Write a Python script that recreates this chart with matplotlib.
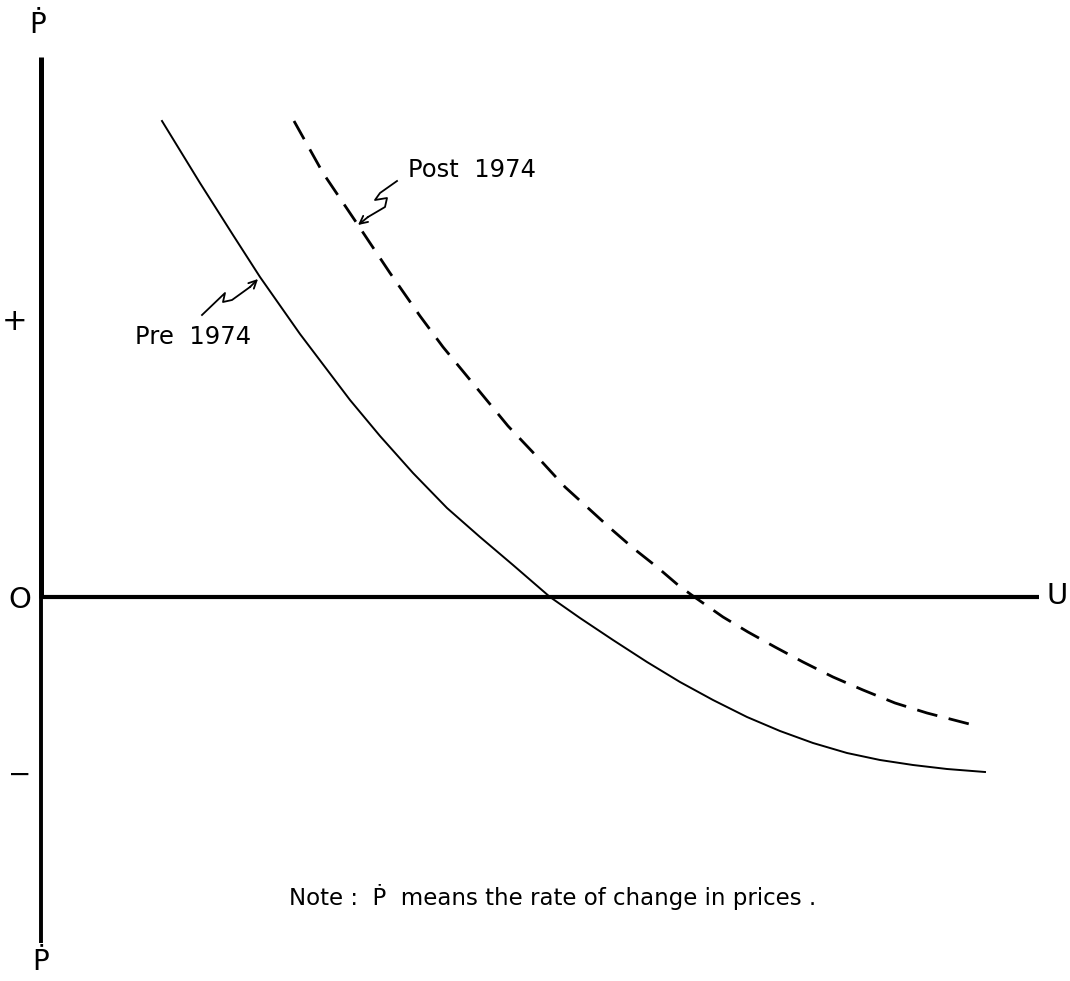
import matplotlib
matplotlib.use("Agg")
import matplotlib.pyplot as plt

# Phillips curves (U on x, rate of price change on y)
pre_u = [1.21, 1.59, 1.92, 2.19, 2.59, 3.09, 3.39, 3.72, 4.06, 4.39, 4.72, 5.09, 5.39,
         5.72, 6.06, 6.39, 6.72, 7.06, 7.39, 7.72, 8.06, 8.39, 8.72, 9.06, 9.44]
pre_p = [4.77, 4.15, 3.63, 3.21, 2.64, 1.98, 1.62, 1.25, 0.90, 0.61, 0.33, 0.01, -0.20,
         -0.42, -0.64, -0.84, -1.02, -1.19, -1.33, -1.45, -1.55, -1.62, -1.67, -1.71, -1.74]

post_u = [2.53, 2.82, 3.17, 3.49, 3.79, 4.02, 4.67, 5.02, 5.24, 5.46, 5.69, 5.92, 6.16,
          6.37, 6.52, 6.82, 7.07, 7.34, 7.62, 7.92, 8.22, 8.54, 8.86, 9.36]
post_p = [4.77, 4.25, 3.73, 3.25, 2.82, 2.51, 1.72, 1.35, 1.11, 0.91, 0.70, 0.50, 0.31,
          0.13, 0.02, -0.19, -0.34, -0.49, -0.64, -0.79, -0.92, -1.05, -1.15, -1.28]

# little hand-drawn squiggly pointers to the curves
pre_squiggle = [(1.61, 2.83), (1.84, 3.05), (1.82, 2.96), (1.91, 2.98), (2.09, 3.11), (2.17, 3.19)]
post_squiggle = [(3.56, 4.17), (3.39, 4.05), (3.34, 3.98), (3.46, 4.00), (3.44, 3.91), (3.27, 3.81), (3.17, 3.73)]

fig = plt.figure(figsize=(10.70, 9.81), dpi=100)
ax = fig.add_axes([0, 0, 1, 1])
ax.set_xlim(-0.41, 10.29)
ax.set_ylim(-3.83, 5.98)
ax.axis("off")

# axes drawn by hand, like the original sketch
ax.plot([0, 0], [0, 5.41], color="black", lw=3.6, solid_capstyle="butt")
ax.plot([0, 0], [-3.45, 0], color="black", lw=2.8, solid_capstyle="butt")
ax.plot([0, 9.98], [0.01, 0.01], color="black", lw=3.0, solid_capstyle="butt")

ax.plot(pre_u, pre_p, color="black", lw=1.4)
ax.plot(post_u, post_p, color="black", lw=2.0, linestyle=(0, (7.5, 4.2)))

for pts in (pre_squiggle, post_squiggle):
    xs = [p[0] for p in pts]
    ys = [p[1] for p in pts]
    ax.plot(xs[:-1], ys[:-1], color="black", lw=1.3)
    ax.annotate("", xy=pts[-1], xytext=pts[-2],
                arrowprops=dict(arrowstyle="->", lw=1.3, color="black",
                                shrinkA=0, shrinkB=0, mutation_scale=14))

font = "DejaVu Sans"
ax.text(-0.03, 5.73, "Ṗ", fontsize=20, ha="center", va="center", family=font)
ax.text(0.0, -3.64, "Ṗ", fontsize=20, ha="center", va="center", family=font)
ax.text(-0.21, -0.02, "O", fontsize=21, ha="center", va="center", family=font)
ax.text(10.16, 0.02, "U", fontsize=21, ha="center", va="center", family=font)
ax.text(-0.26, 2.76, "+", fontsize=22, ha="center", va="center", family=font)
ax.text(-0.21, -1.77, "−", fontsize=20, ha="center", va="center", family=font)

ax.text(1.52, 2.61, "Pre  1974", fontsize=17.5, ha="center", va="center", family=font)
ax.text(4.31, 4.28, "Post  1974", fontsize=17.5, ha="center", va="center", family=font)
ax.text(5.12, -2.99, "Note :  Ṗ  means the rate of change in prices .", fontsize=16.5,
        ha="center", va="center", family=font)

fig.savefig("out.png", dpi=100)
